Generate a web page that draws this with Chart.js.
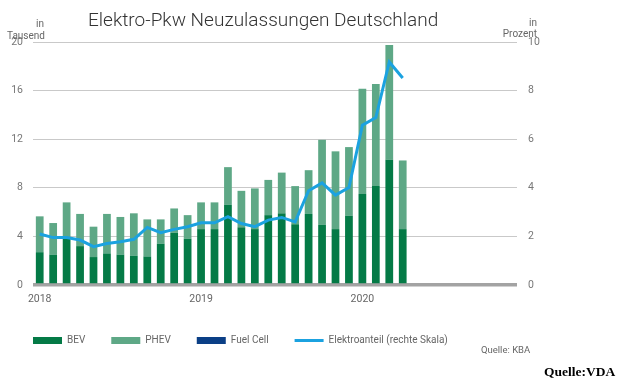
<!DOCTYPE html>
<html>
<head>
<meta charset="utf-8">
<script src="https://cdn.jsdelivr.net/npm/chart.js@4"></script>
<style>
  body { margin: 0; background: #fff; }
  #wrap { position: relative; width: 620px; height: 382px; }
  #chart { position: absolute; left: 0; top: 0; }
  .txt { position: absolute; white-space: nowrap; line-height: 1; color: #666;
         font-family: Roboto, sans-serif; font-size: 10px; }
  #title { left: 88px; top: 10px; font-weight: 300; font-size: 19px; color: #333; }
  #vda { left: 544px; top: 365px; font-family: "Liberation Serif", serif; font-weight: bold; font-size: 13.5px; color: #000; }
</style>
</head>
<body>
<div id="wrap">
  <canvas id="chart" width="620" height="382"></canvas>
  <div id="title" class="txt">Elektro-Pkw Neuzulassungen Deutschland</div>
  <div class="txt" style="left:36px; top:19px;">in</div>
  <div class="txt" style="left:7px; top:31px;">Tausend</div>
  <div class="txt" style="right:83px; top:18px;">in</div>
  <div class="txt" style="right:83px; top:29px;">Prozent</div>
  <div class="txt" style="left:481px; top:345px; font-size:9.5px;">Quelle: KBA</div>
  <div id="vda" class="txt">Quelle:VDA</div>
</div>
<script>
// months Jan 2018 - Dec 2020 (axis runs through 2020, data ends in April)
const months = [
  '2018-01','2018-02','2018-03','2018-04','2018-05','2018-06','2018-07','2018-08','2018-09','2018-10','2018-11','2018-12',
  '2019-01','2019-02','2019-03','2019-04','2019-05','2019-06','2019-07','2019-08','2019-09','2019-10','2019-11','2019-12',
  '2020-01','2020-02','2020-03','2020-04','2020-05','2020-06','2020-07','2020-08','2020-09','2020-10','2020-11','2020-12'
];

// new registrations in thousand
const bev = [2.7, 2.5, 3.8, 3.2, 2.3, 2.6, 2.5, 2.4, 2.35, 3.4, 4.3, 3.8,
             4.6, 4.6, 6.6, 4.75, 4.6, 5.75, 5.9, 5.0, 5.85, 4.95, 4.6, 5.7,
             7.5, 8.15, 10.3, 4.6];
const phev = [2.95, 2.6, 3.0, 2.65, 2.5, 3.25, 3.1, 3.5, 3.05, 2.0, 2.0, 1.95,
              2.2, 2.2, 3.1, 3.0, 3.35, 2.9, 3.35, 3.14, 3.6, 7.0, 6.4, 5.65,
              8.65, 8.4, 9.45, 5.65];
const fuelCell = [0, 0, 0, 0, 0, 0, 0, 0, 0, 0, 0, 0,
                  0, 0, 0, 0, 0, 0, 0, 0, 0, 0, 0, 0,
                  0, 0, 0, 0];
// share of electric cars in percent (right scale)
const share = [2.1, 1.95, 1.95, 1.85, 1.58, 1.71, 1.78, 1.88, 2.37, 2.15, 2.29, 2.4,
               2.56, 2.56, 2.81, 2.53, 2.4, 2.67, 2.78, 2.6, 3.88, 4.2, 3.7, 4.01,
               6.58, 6.89, 9.18, 8.52];

const leftTicks = [0, 4, 8, 12, 16, 20];
const rightTicks = [0, 2, 4, 6, 8, 10];

const tickFont = { family: 'Roboto, sans-serif', size: 10.5 };

const ctx = document.getElementById('chart').getContext('2d');
const chart = new Chart(ctx, {
    data: {
        labels: months,
        datasets: [
            { type: 'bar', label: 'BEV', data: bev, backgroundColor: '#047a46', stack: 's', order: 1,
              barPercentage: 0.9, categoryPercentage: 0.64 },
            { type: 'bar', label: 'PHEV', data: phev, backgroundColor: '#5ea886', stack: 's', order: 1,
              barPercentage: 0.9, categoryPercentage: 0.64 },
            { type: 'bar', label: 'Fuel Cell', data: fuelCell, backgroundColor: '#0b3f86', stack: 's', order: 1,
              barPercentage: 0.9, categoryPercentage: 0.64 },
            { type: 'line', label: 'Elektroanteil (rechte Skala)', data: share, yAxisID: 'y1',
              borderColor: '#1ba2e0', backgroundColor: '#1ba2e0', borderWidth: 3,
              pointRadius: 0, tension: 0, order: 0 }
        ]
    },
    options: {
        responsive: false,
        animation: false,
        layout: { padding: { left: 7, right: 0, top: 42, bottom: 33.5 } },
        plugins: {
            tooltip: { enabled: false },
            legend: {
                position: 'bottom',
                align: 'start',
                maxHeight: 39,
                labels: {
                    usePointStyle: true,
                    pointStyleWidth: 29,
                    boxWidth: 29,
                    boxHeight: 7,
                    padding: 26,
                    color: '#666',
                    font: { family: 'Roboto, sans-serif', size: 10 },
                    sort: (a, b) => a.datasetIndex - b.datasetIndex,
                    generateLabels: function (c) {
                        const items = Chart.defaults.plugins.legend.labels.generateLabels(c);
                        items.forEach(function (item) {
                            const ds = c.data.datasets[item.datasetIndex];
                            if (ds.type === 'line') {
                                item.pointStyle = 'line';
                                item.lineWidth = 3;
                                item.strokeStyle = ds.borderColor;
                            } else {
                                item.pointStyle = 'rect';
                                item.lineWidth = 0;
                            }
                        });
                        return items;
                    }
                }
            }
        },
        scales: {
            x: {
                stacked: true,
                afterFit: function (s) { s.height = 24.5; },
                grid: { display: false, drawTicks: false },
                border: { display: false },
                ticks: {
                    autoSkip: false,
                    maxRotation: 0,
                    padding: 8,
                    color: '#666',
                    font: tickFont,
                    callback: function (value) {
                        const lbl = this.getLabelForValue(value);
                        return lbl.endsWith('-01') ? lbl.slice(0, 4) : '';
                    }
                }
            },
            y: {
                stacked: true,
                position: 'left',
                min: 0,
                max: 20,
                afterBuildTicks: function (s) { s.ticks = leftTicks.map(v => ({ value: v })); },
                afterFit: function (s) { s.width = 26; },
                border: { display: false },
                grid: {
                    drawTicks: false,
                    color: c => c.tick && c.tick.value === 0 ? '#a3a3a3' : '#c9c9c9',
                    lineWidth: c => c.tick && c.tick.value === 0 ? 3.5 : 1
                },
                ticks: { padding: 10, color: '#777', font: tickFont }
            },
            y1: {
                position: 'right',
                min: 0,
                max: 10,
                afterBuildTicks: function (s) { s.ticks = rightTicks.map(v => ({ value: v })); },
                afterFit: function (s) { s.width = 103; },
                border: { display: false },
                grid: { display: false, drawTicks: false },
                ticks: { padding: 11, color: '#777', font: tickFont }
            }
        }
    }
});
</script>
</body>
</html>
